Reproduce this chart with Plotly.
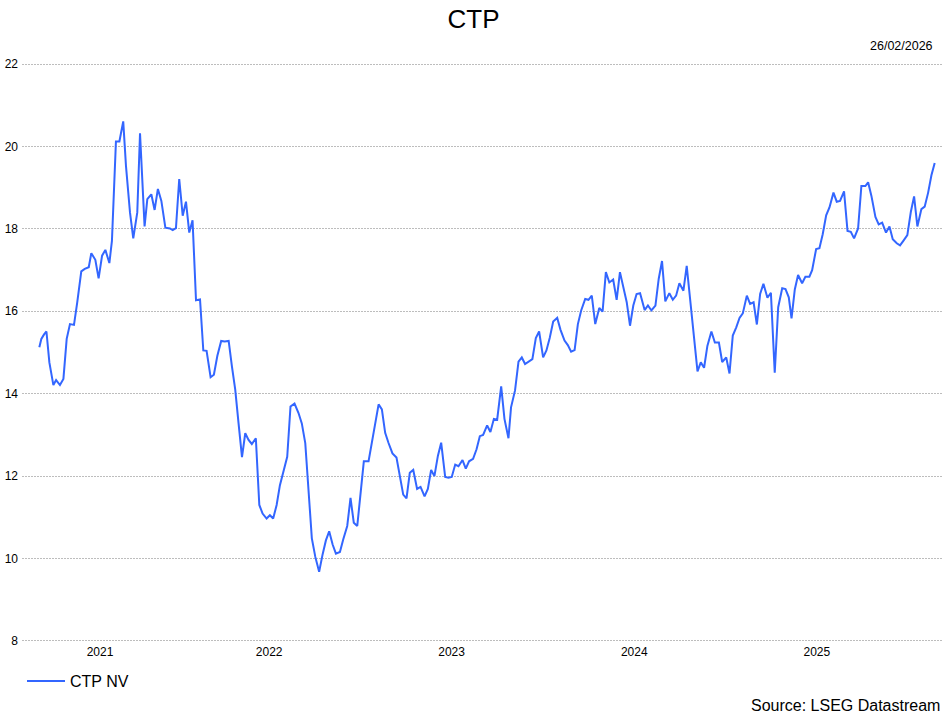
import datetime as dt
import plotly.graph_objects as go

# Time of each weekly observation, in decimal years
t_years = [
    2021.240, 2021.251, 2021.266, 2021.279, 2021.295, 2021.317, 2021.332, 2021.353, 2021.372, 2021.390,
    2021.408, 2021.430, 2021.448, 2021.470, 2021.489, 2021.511, 2021.525, 2021.547, 2021.565, 2021.584,
    2021.602, 2021.624, 2021.638, 2021.660, 2021.679, 2021.700, 2021.715, 2021.737, 2021.755, 2021.777,
    2021.792, 2021.817, 2021.832, 2021.854, 2021.872, 2021.890, 2021.909, 2021.931, 2021.956, 2021.971,
    2021.989, 2022.007, 2022.026,
    2022.044, 2022.062, 2022.080, 2022.099, 2022.121, 2022.139, 2022.157, 2022.179, 2022.197, 2022.216,
    2022.237, 2022.256, 2022.278, 2022.296, 2022.314, 2022.332, 2022.351, 2022.369, 2022.387, 2022.405,
    2022.427, 2022.446, 2022.464, 2022.486, 2022.504, 2022.522, 2022.541, 2022.559, 2022.577, 2022.599,
    2022.617, 2022.639, 2022.661, 2022.679, 2022.698, 2022.716, 2022.734, 2022.753, 2022.774, 2022.793,
    2022.811, 2022.829,
    2022.848, 2022.866, 2022.888, 2022.906, 2022.928, 2022.946, 2022.964, 2022.983, 2023.001, 2023.019,
    2023.045, 2023.063, 2023.081, 2023.100, 2023.118, 2023.136, 2023.154, 2023.176, 2023.198, 2023.216,
    2023.235, 2023.253, 2023.271, 2023.290, 2023.311, 2023.330, 2023.352, 2023.370, 2023.388, 2023.406,
    2023.425, 2023.443, 2023.465, 2023.483, 2023.501, 2023.520, 2023.538, 2023.560, 2023.578, 2023.596,
    2023.618, 2023.637, 2023.655,
    2023.673, 2023.695, 2023.713, 2023.732, 2023.750, 2023.772, 2023.790, 2023.812, 2023.826, 2023.848,
    2023.867, 2023.885, 2023.903, 2023.921, 2023.943, 2023.962, 2023.980, 2024.002, 2024.020, 2024.038,
    2024.057, 2024.079, 2024.097, 2024.119, 2024.137, 2024.155, 2024.174, 2024.192, 2024.210, 2024.232,
    2024.250, 2024.268, 2024.287, 2024.309, 2024.327, 2024.345, 2024.364, 2024.385, 2024.404, 2024.422,
    2024.440, 2024.459, 2024.477, 2024.495, 2024.513, 2024.532,
    2024.557, 2024.575, 2024.594, 2024.616, 2024.634, 2024.652, 2024.670, 2024.692, 2024.711, 2024.729,
    2024.747, 2024.769, 2024.787, 2024.805, 2024.824, 2024.846, 2024.864, 2024.882, 2024.900, 2024.922,
    2024.941, 2024.963, 2024.981, 2025.003, 2025.021, 2025.039, 2025.058, 2025.076, 2025.094, 2025.116,
    2025.134, 2025.153, 2025.171, 2025.189, 2025.207, 2025.229, 2025.248, 2025.269, 2025.288, 2025.310,
    2025.328, 2025.346,
    2025.361, 2025.379, 2025.397, 2025.419, 2025.437, 2025.459, 2025.474, 2025.496, 2025.514, 2025.532,
    2025.551, 2025.569, 2025.591, 2025.609, 2025.627, 2025.649, 2025.668, 2025.686, 2025.704, 2025.726,
    2025.744, 2025.766, 2025.781, 2025.799, 2025.821, 2025.839, 2025.858, 2025.879, 2025.898, 2025.916,
    2025.938, 2025.956, 2025.974, 2025.996, 2026.015, 2026.033, 2026.051, 2026.073, 2026.091, 2026.110,
    2026.128, 2026.146,
]

# CTP NV share price (EUR)
ctp_nv = [
    15.13, 15.33, 15.44, 15.51, 14.76, 14.21, 14.33, 14.21, 14.36, 15.33,
    15.69, 15.67, 16.22, 16.97, 17.03, 17.07, 17.41, 17.25, 16.80, 17.35,
    17.49, 17.17, 17.71, 20.12, 20.12, 20.61, 19.53, 18.40, 17.77, 18.40,
    20.32, 18.06, 18.72, 18.84, 18.46, 18.97, 18.68, 18.03, 18.01, 17.97,
    18.02, 19.21, 18.32,
    18.66, 17.91, 18.21, 16.27, 16.29, 15.05, 15.04, 14.40, 14.46, 14.92,
    15.28, 15.27, 15.28, 14.66, 14.10, 13.29, 12.46, 13.04, 12.88, 12.78,
    12.92, 11.30, 11.09, 10.97, 11.05, 10.97, 11.30, 11.78, 12.11, 12.47,
    13.69, 13.76, 13.53, 13.28, 12.80, 11.58, 10.49, 10.04, 9.68, 10.10,
    10.44, 10.66,
    10.34, 10.12, 10.16, 10.46, 10.79, 11.47, 10.87, 10.79, 11.51, 12.36,
    12.36, 12.81, 13.17, 13.74, 13.62, 13.05, 12.81, 12.55, 12.45, 11.96,
    11.55, 11.46, 12.08, 12.15, 11.69, 11.74, 11.51, 11.69, 12.15, 12.00,
    12.49, 12.81, 11.98, 11.96, 11.98, 12.28, 12.24, 12.39, 12.18, 12.36,
    12.42, 12.65, 12.97,
    13.00, 13.23, 13.07, 13.39, 13.37, 14.18, 13.39, 12.92, 13.67, 14.08,
    14.78, 14.88, 14.72, 14.78, 14.84, 15.35, 15.51, 14.88, 15.05, 15.35,
    15.75, 15.84, 15.55, 15.29, 15.18, 15.02, 15.06, 15.69, 16.02, 16.30,
    16.28, 16.38, 15.69, 16.08, 15.99, 16.95, 16.70, 16.77, 16.28, 16.95,
    16.62, 16.22, 15.65, 16.14, 16.42, 16.44,
    16.03, 16.14, 16.02, 16.14, 16.79, 17.22, 16.24, 16.44, 16.28, 16.38,
    16.68, 16.50, 17.10, 16.30, 15.49, 14.54, 14.76, 14.63, 15.16, 15.51,
    15.24, 15.24, 14.77, 14.88, 14.49, 15.41, 15.61, 15.84, 15.95, 16.38,
    16.18, 16.22, 15.68, 16.42, 16.67, 16.33, 16.45, 14.51, 16.10, 16.56,
    16.54, 16.34,
    15.83, 16.53, 16.88, 16.68, 16.84, 16.84, 17.00, 17.51, 17.53, 17.87,
    18.33, 18.52, 18.88, 18.66, 18.68, 18.91, 17.95, 17.93, 17.77, 18.01,
    19.04, 19.04, 19.13, 18.80, 18.29, 18.11, 18.15, 17.91, 18.06, 17.75,
    17.65, 17.60, 17.71, 17.85, 18.41, 18.79, 18.06, 18.48, 18.54, 18.88,
    19.30, 19.60,
]

year_labels = ["2021", "2022", "2023", "2024", "2025"]
y_ticks = [8, 10, 12, 14, 16, 18, 20, 22]
x_start, x_end = 2021.145, 2026.186
title_text = "CTP"
date_text = "26/02/2026"
series_name = "CTP NV"
source_text = "Source: LSEG Datastream"


def to_date(t):
    y = int(t)
    a = dt.datetime(y, 1, 1)
    b = dt.datetime(y + 1, 1, 1)
    return a + (b - a) * (t - y)


dates = [to_date(t) for t in t_years]

# Year labels centred on the visible part of each year
tickvals = []
for lab in year_labels:
    y = int(lab)
    lo = max(float(y), x_start)
    hi = min(float(y + 1), x_end)
    tickvals.append(to_date((lo + hi) / 2))

FONT = "Arial, 'Liberation Sans', sans-serif"

# plot area geometry (pixels)
M_L, M_R, M_T, M_B = 22, 5, 62, 73
PH = 716 - M_T - M_B
PW = 947 - M_L - M_R
BOT = 716 - M_B


def py(p):
    return (BOT - p) / PH


def px(p):
    return (p - M_L) / PW


fig = go.Figure()
fig.add_trace(go.Scatter(
    x=dates, y=ctp_nv, mode="lines", name=series_name,
    line=dict(color="#3366ff", width=2),
))

fig.update_layout(
    width=947, height=716,
    margin=dict(l=M_L, r=M_R, t=M_T, b=M_B),
    paper_bgcolor="white", plot_bgcolor="white",
    font=dict(family=FONT, size=12, color="black"),
    title=dict(text=title_text, x=0.5, xanchor="center", y=1 - 19 / 716, yanchor="middle",
               font=dict(family=FONT, size=26, color="black")),
    showlegend=True,
    legend=dict(orientation="h", x=0.0, xanchor="left", y=py(681), yanchor="middle",
                itemwidth=38,
                font=dict(family=FONT, size=16, color="black"), bgcolor="rgba(0,0,0,0)"),
    xaxis=dict(
        type="date", range=[to_date(x_start), to_date(x_end)],
        tickmode="array", tickvals=tickvals, ticktext=year_labels,
        showgrid=False, zeroline=False, showline=False, ticks="",
        ticklabelstandoff=0,
        tickfont=dict(family=FONT, size=12, color="black"), automargin=False,
    ),
    yaxis=dict(
        range=[7.95, 22.05], tickmode="array", tickvals=y_ticks,
        showgrid=True, gridcolor="#bdbdbd", griddash="2px,1px", gridwidth=1,
        zeroline=False, showline=False, ticks="",
        ticklabelstandoff=3,
        tickfont=dict(family=FONT, size=12, color="black"), automargin=False,
    ),
    annotations=[
        dict(text=date_text, xref="paper", yref="paper", x=px(935), y=py(46),
             xanchor="right", yanchor="middle", showarrow=False,
             font=dict(family=FONT, size=12.5, color="black")),
        dict(text=source_text, xref="paper", yref="paper", x=1.0, y=py(705),
             xanchor="right", yanchor="middle", showarrow=False,
             font=dict(family=FONT, size=16, color="black")),
    ],
)

fig.write_html("out.html", config={"displayModeBar": False},
               post_script="document.body.style.margin='0';")
